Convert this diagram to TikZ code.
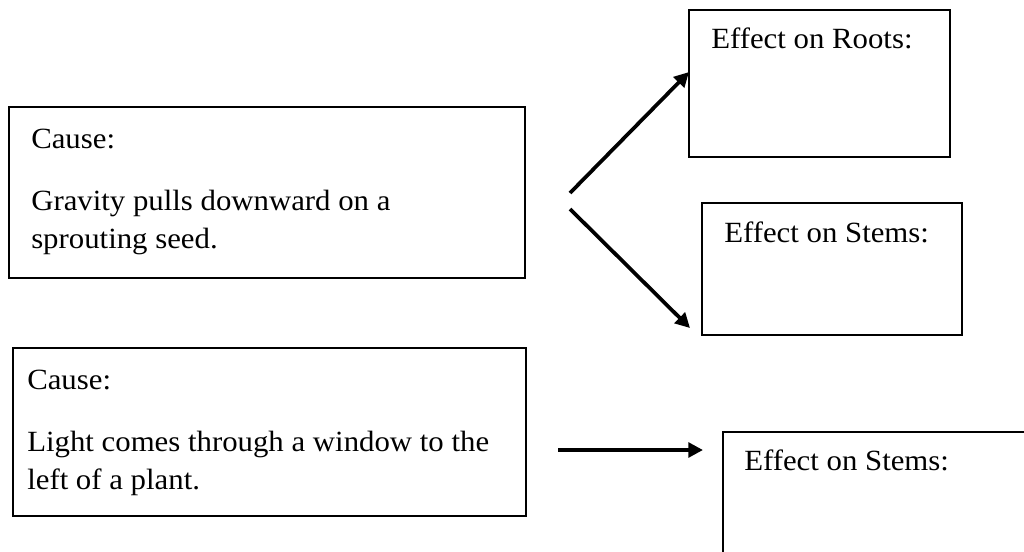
\documentclass[tikz,border=0pt]{standalone}
\usepackage{fontspec}
\setmainfont[FakeStretch=1.05]{Liberation Serif}
\usetikzlibrary{arrows.meta}
\begin{document}
\begin{tikzpicture}[x=0.75pt,y=-0.75pt,
  box/.style={draw=black,line width=1.5pt},
  txt/.style={anchor=base west,inner sep=0pt,font=\fontsize{22pt}{26pt}\selectfont},
  conn/.style={line width=2.8pt,-{Triangle[length=11pt,width=11pt]}}]
\useasboundingbox (0,0) rectangle (1024,551);
\clip (0,0) rectangle (1024,551);
% boxes
\draw[box] (9,107) rectangle (525,278);
\draw[box] (13,348) rectangle (526,516);
\draw[box] (689,10) rectangle (950,157);
\draw[box] (702,203) rectangle (962,335);
\draw[box] (723,432) rectangle (1040,570);
% texts
\node[txt] (c1a) at (31,148) {Cause:};
\node[txt] (c1b) at (31,210) {Gravity pulls downward on a};
\node[txt] (c1c) at (31,248) {sprouting seed.};
\node[txt] (c2a) at (27,389) {Cause:};
\node[txt] (c2b) at (27,451) {Light comes through a window to the};
\node[txt] (c2c) at (27,489) {left of a plant.};
\node[txt] (e1) at (711,48) {Effect on Roots:};
\node[txt] (e2) at (724,242) {Effect on Stems:};
\node[txt] (e3) at (744,470) {Effect on Stems:};
% connectors
\coordinate (a1s) at (570,193);
\coordinate (a1e) at (689,72);
\coordinate (a2s) at (570,209);
\coordinate (a2e) at (690,328);
\coordinate (a3s) at (558,450);
\coordinate (a3e) at (703,450);
\draw[conn] (a1s) -- (a1e);
\draw[conn] (a2s) -- (a2e);
\draw[conn] (a3s) -- (a3e);
\end{tikzpicture}
\end{document}
